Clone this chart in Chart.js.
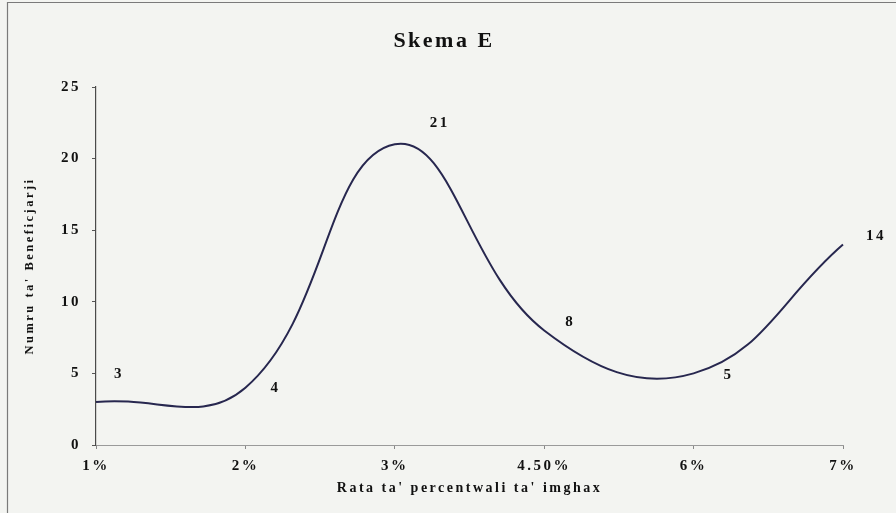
<!DOCTYPE html>
<html>
<head>
<meta charset="utf-8">
<script src="https://cdn.jsdelivr.net/npm/chart.js@4.4.1/dist/chart.umd.min.js"></script>
<style>
  html, body { margin: 0; padding: 0; background: #f3f4f1; }
  #wrap { width: 896px; height: 513px; position: relative; }
  canvas { display: block; }
</style>
</head>
<body>
<div id="wrap"><canvas id="c" width="896" height="513"></canvas></div>
<script>
// ---- data ----
const categories = ['1%', '2%', '3%', '4.50%', '6%', '7%'];
const beneficiaries = [3, 4, 21, 8, 5, 14];
const yTicks = [0, 5, 10, 15, 20, 25];
const chartTitle = 'Skema E';
const xTitle = "Rata ta' percentwali ta' imghax";
const yTitle = "Numru ta' Beneficjarji";

const serif = "'Liberation Serif', 'Times New Roman', serif";
const ink = '#111111';

// label offsets (layout only)
const labelOffsets = [[23, -28], [30, 0], [45, -21], [26, -8], [35, 2], [33, -8]];

const spacingPlugin = {
  id: 'spacing',
  beforeDraw(chart) {
    const ctx = chart.ctx;
    ctx.save();
    ctx.fillStyle = '#f3f4f1';
    ctx.fillRect(0, 0, chart.width, chart.height);
    ctx.strokeStyle = '#7a7a7a';
    ctx.lineWidth = 1.2;
    ctx.beginPath();
    ctx.moveTo(7.5, chart.height);
    ctx.lineTo(7.5, 2.5);
    ctx.lineTo(chart.width, 2.5);
    ctx.stroke();
    ctx.restore();
    if ('letterSpacing' in ctx) ctx.letterSpacing = '2.5px';
  },
  afterDraw(chart) {
    if ('letterSpacing' in chart.ctx) chart.ctx.letterSpacing = '0px';
  }
};

const labelPlugin = {
  id: 'pointLabels',
  afterDatasetsDraw(chart) {
    const ctx = chart.ctx;
    const meta = chart.getDatasetMeta(0);
    ctx.save();
    if ('letterSpacing' in ctx) ctx.letterSpacing = '2.5px';
    ctx.font = "bold 15px " + serif;
    ctx.fillStyle = ink;
    ctx.textAlign = 'center';
    ctx.textBaseline = 'middle';
    meta.data.forEach((pt, i) => {
      const off = labelOffsets[i] || [20, 0];
      ctx.fillText(String(beneficiaries[i]), pt.x + off[0], pt.y + off[1]);
    });
    ctx.restore();
  }
};

new Chart(document.getElementById('c'), {
  type: 'line',
  data: {
    labels: categories,
    datasets: [{
      data: beneficiaries,
      borderColor: '#27274f',
      borderWidth: 2,
      pointRadius: 0,
      tension: 0.42,
      fill: false
    }]
  },
  options: {
    responsive: false,
    animation: false,
    devicePixelRatio: 1,
    layout: { padding: { left: 45, right: 53, top: 0, bottom: 0 } },
    plugins: {
      legend: { display: false },
      tooltip: { enabled: false },
      title: {
        display: true,
        text: chartTitle,
        color: ink,
        font: { family: serif, size: 22, weight: 'bold' },
        padding: { top: 28, bottom: 32.6 }
      }
    },
    scales: {
      x: {
        type: 'category',
        offset: false,
        grid: {
          display: true,
          drawOnChartArea: false,
          drawTicks: true,
          tickLength: 4,
          color: '#888'
        },
        border: { display: true, color: '#9a9a9a', width: 1 },
        ticks: {
          color: ink,
          font: { family: serif, size: 15, weight: 'bold' },
          padding: 8,
          maxRotation: 0,
          autoSkip: false
        },
        title: {
          display: true,
          text: xTitle,
          color: ink,
          font: { family: serif, size: 14, weight: 'bold' },
          padding: { top: 0, bottom: 16 }
        },
        afterFit(scale) { scale.height = 68; }
      },
      y: {
        min: 0,
        max: 25,
        afterBuildTicks(scale) { scale.ticks = yTicks.map(v => ({ value: v })); },
        grid: {
          display: true,
          drawOnChartArea: false,
          drawTicks: true,
          tickLength: 4,
          color: '#555'
        },
        border: { display: true, color: '#4a4a4a', width: 1.2 },
        ticks: {
          color: ink,
          font: { family: serif, size: 15, weight: 'bold' },
          padding: 11
        },
        title: {
          display: true,
          text: yTitle,
          color: ink,
          font: { family: serif, size: 12.5, weight: 'bold' },
          padding: { top: -23, bottom: 0 }
        },
        afterFit(scale) { scale.width = 51; }
      }
    }
  },
  plugins: [spacingPlugin, labelPlugin]
});
</script>
</body>
</html>
